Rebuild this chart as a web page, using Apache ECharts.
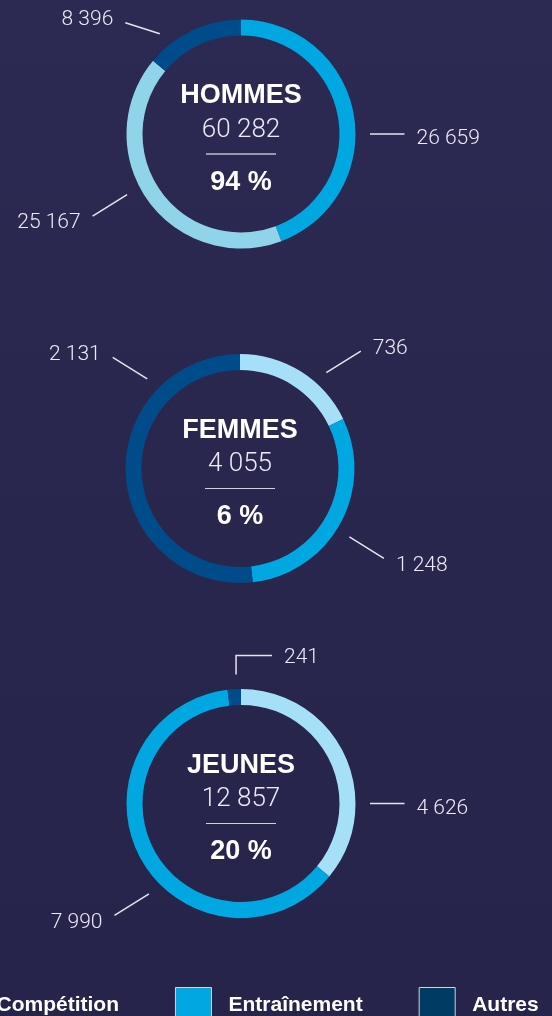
<!DOCTYPE html>
<html>
<head>
<meta charset="utf-8">
<script src="https://cdn.jsdelivr.net/npm/echarts@6/dist/echarts.min.js"></script>
<style>
  html, body { margin: 0; padding: 0; background: #2a2750; }
  #main { width: 552px; height: 1016px; }
</style>
</head>
<body>
<div id="main"></div>
<script>
// data
const categories = ['Compétition', 'Entraînement', 'Autres'];
const groups = ['HOMMES', 'FEMMES', 'JEUNES'];
const totals = [60282, 4055, 12857];
const shares = [94, 6, 20];
const hommesValues = [25167, 26659, 8396];
const femmesValues = [736, 1248, 2131];
const jeunesValues = [4626, 7990, 241];

// layout / style
const values = [hommesValues, femmesValues, jeunesValues];
const sliceOrder = [[1, 0, 2], [0, 1, 2], [0, 1, 2]];
const centers = [[241, 134], [240, 468.5], [241, 803.5]];
// where each leader line starts (degrees clockwise from top) and how much it rises
const labelSpecs = [
  [[90, 0], [242, 21.5], [321, 11]],
  [[42, 21.5], [122, 21.5], [314, 21.5]],
  [[90, 0], [225.5, 21.5], [357.8, 'elbow']]
];
const colors = {
  light: ['#8fd4e8', '#a6e0f8', '#a6e0f8'],
  bright: '#00a7e0',
  dark: '#004b89'
};
const R_IN = 98.5, R_OUT = 114.5, L1 = 129, RUN = 34.5;

function fmt(n) {
  return String(n).replace(/\B(?=(\d{3})+(?!\d))/g, ' ');
}

function sliceColor(g, cat) {
  if (cat === 0) return colors.light[g];
  if (cat === 1) return colors.bright;
  return colors.dark;
}

let chart = echarts.init(document.getElementById('main'));

let series = groups.map(function (name, g) {
  return {
    name: name,
    type: 'pie',
    center: centers[g],
    radius: [R_IN, R_OUT],
    startAngle: 90,
    clockwise: true,
    avoidLabelOverlap: false,
    silent: true,
    emphasis: { disabled: true },
    label: {
      show: true,
      position: 'outside',
      formatter: function (p) { return fmt(p.value); },
      color: '#ecebf3',
      fontFamily: 'Roboto',
      fontWeight: 300,
      fontSize: 21
    },
    labelLine: {
      show: true,
      lineStyle: { color: '#e4e4ee', width: 1.5 }
    },
    labelLayout: function (p) {
      let c = centers[p.seriesIndex];
      let spec = labelSpecs[p.seriesIndex][p.dataIndex];
      let a = spec[0] * Math.PI / 180;
      let dx = Math.sin(a), dy = -Math.cos(a);
      let s = [c[0] + dx * L1, c[1] + dy * L1];
      if (spec[1] === 'elbow') {
        // near the top: go up then right
        let elbow = [s[0], s[1] - 19];
        let end = [s[0] + 36, s[1] - 19];
        return {
          x: end[0] + 12, y: end[1] + 2, align: 'left', verticalAlign: 'middle',
          labelLinePoints: [s, elbow, end]
        };
      }
      let right = dx > 0;
      let up = dy < 0;
      let e = [s[0] + (right ? RUN : -RUN), s[1] + (up ? -spec[1] : spec[1])];
      let off = spec[1] === 0 ? 5 : (up ? -2.5 : 7);
      return {
        x: e[0] + (right ? 12 : -12),
        y: e[1] + off,
        align: right ? 'left' : 'right',
        verticalAlign: 'middle',
        labelLinePoints: [s, e]
      };
    },
    data: sliceOrder[g].map(function (cat) {
      return {
        name: categories[cat],
        value: values[g][cat],
        itemStyle: { color: sliceColor(g, cat) }
      };
    })
  };
});

let titles = groups.map(function (name, g) {
  return {
    text: '{t|' + name + '}\n{n|' + fmt(totals[g]) + '}\n{hr|}\n{p|' + shares[g] + ' %}',
    left: centers[g][0],
    top: centers[g][1] - 54,
    textAlign: 'center',
    padding: 0,
    textStyle: {
      align: 'center',
      rich: {
        t: { fontSize: 27, fontWeight: 'bold', fontFamily: 'Liberation Sans', color: '#ffffff', lineHeight: 32, align: 'center' },
        n: { fontSize: 26, fontWeight: 300, fontFamily: 'Roboto', color: '#ecebf3', lineHeight: 36, align: 'center' },
        hr: { width: 70, height: 0, borderColor: '#d8d8e2', borderWidth: 0.8, lineHeight: 12, align: 'center' },
        p: { fontSize: 27, fontWeight: 'bold', fontFamily: 'Liberation Sans', color: '#ffffff', lineHeight: 45, align: 'center' }
      }
    }
  };
});

let option = {
  animation: false,
  backgroundColor: {
    type: 'linear', x: 0, y: 0, x2: 0, y2: 1,
    colorStops: [{ offset: 0, color: '#2c2952' }, { offset: 1, color: '#27244b' }]
  },
  title: titles,
  legend: {
    left: -57,
    top: 987,
    width: 800,
    padding: 0,
    icon: 'rect',
    itemWidth: 36,
    itemHeight: 36,
    itemGap: 56,
    selectedMode: false,
    itemStyle: { borderColor: '#c8d6e6', borderWidth: 1 },
    textStyle: {
      color: '#ffffff',
      fontSize: 21,
      fontWeight: 'bold',
      fontFamily: 'Liberation Sans',
      padding: [4, 0, 0, 12]
    },
    data: [
      { name: 'Compétition', itemStyle: { color: colors.light[1] } },
      { name: 'Entraînement', itemStyle: { color: colors.bright } },
      { name: 'Autres', itemStyle: { color: '#003b63' } }
    ]
  },
  series: series
};

chart.setOption(option);
</script>
</body>
</html>
